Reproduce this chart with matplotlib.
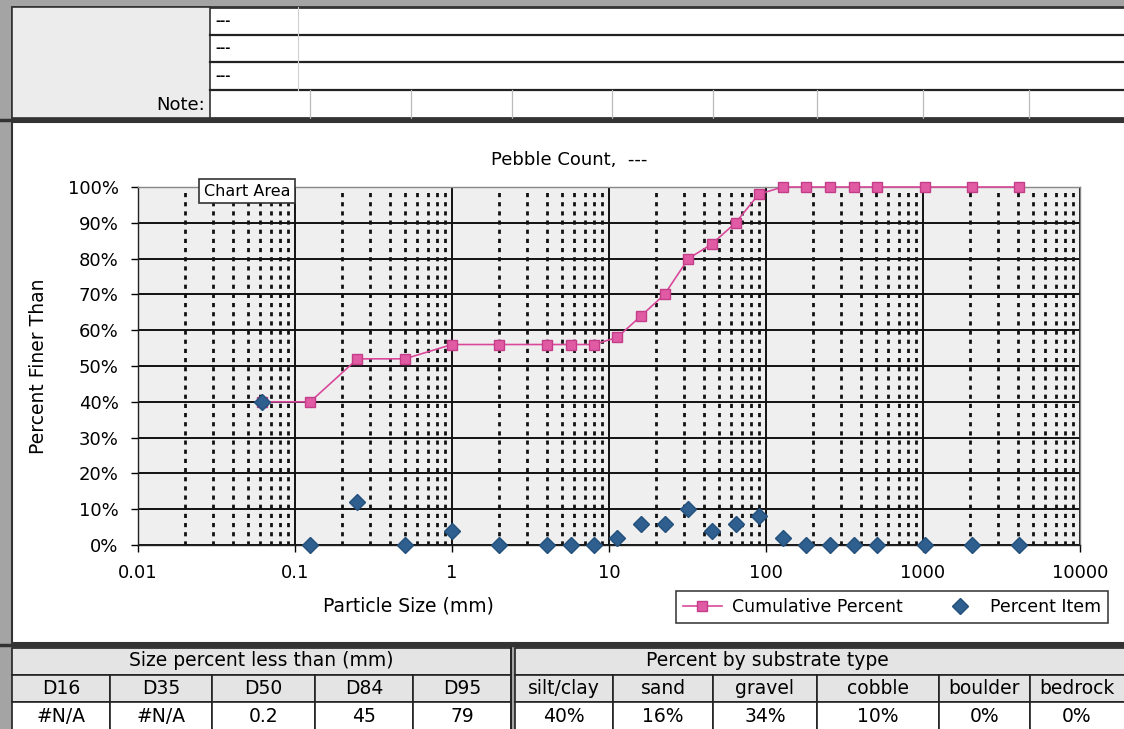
import numpy as np
import matplotlib
matplotlib.use("Agg")
import matplotlib.pyplot as plt
from matplotlib.patches import Rectangle
from matplotlib.ticker import FixedLocator, FuncFormatter, NullFormatter

plt.rcParams['font.family'] = ['DejaVu Sans']

# ---------------------------------------------------------
# data
sizes = [0.062, 0.125, 0.25, 0.5, 1, 2, 4, 5.7, 8, 11.3, 16, 22.6, 32, 45,
         64, 90, 128, 180, 256, 362, 512, 1024, 2048, 4096]
cum_pct = [40, 40, 52, 52, 56, 56, 56, 56, 56, 58, 64, 70, 80, 84,
           90, 98, 100, 100, 100, 100, 100, 100, 100, 100]
item_pct = [40, 0, 12, 0, 4, 0, 0, 0, 0, 2, 6, 6, 10, 4,
            6, 8, 2, 0, 0, 0, 0, 0, 0, 0]

d_labels = ['D16', 'D35', 'D50', 'D84', 'D95']
d_values = ['#N/A', '#N/A', '0.2', '45', '79']
sub_labels = ['silt/clay', 'sand', 'gravel', 'cobble', 'boulder', 'bedrock']
sub_values = ['40%', '16%', '34%', '10%', '0%', '0%']
header_notes = ['---', '---', '---']

W, H = 1124, 729
fig = plt.figure(figsize=(W / 100, H / 100), dpi=100)
fig.patch.set_facecolor('#a4a4a4')

# background "sheet" axes in pixel coordinates
bg = fig.add_axes([0, 0, 1, 1])
bg.set_xlim(0, W)
bg.set_ylim(H, 0)
bg.axis('off')

def box(x0, y0, x1, y1, fc='white', ec='#222222', lw=1.0, z=1):
    bg.add_patch(Rectangle((x0, y0), x1 - x0, y1 - y0, facecolor=fc,
                           edgecolor=ec, linewidth=lw, zorder=z))

# ---- header block
box(12, 7, 1130, 118, fc='white', ec='#333333', lw=2)
box(12, 7, 210, 118, fc='#ececec', ec='#333333', lw=1.2)
for yy in [35, 62, 90]:
    bg.plot([210, 1130], [yy, yy], color='#222222', lw=1.6)
bg.plot([298, 298], [7, 90], color='#d0d0d0', lw=0.8)
for xx in [310, 411, 512, 612, 713, 817, 923, 1029]:
    bg.plot([xx, xx], [90, 118], color='#bbbbbb', lw=0.9)
for i, t in enumerate(header_notes):
    bg.text(215, 21 + 27.5 * i, t, fontsize=9, fontweight='bold', va='center', ha='left')
bg.text(205, 105, 'Note:', fontsize=13, va='center', ha='right')
bg.plot([0, W], [120, 120], color='#333333', lw=2.5)

# ---- chart area
box(12, 122, 1130, 643, fc='white', ec='#333333', lw=1.5)
bg.text(569, 160, 'Pebble Count,  ---', fontsize=13, ha='center', va='center')

# ---- bottom tables
bg.plot([0, W], [645, 645], color='#333333', lw=2.5)
ldiv = [12, 110, 212, 315, 413, 511]
box(12, 648, 511, 675, fc='#e4e4e4', ec='#222222', lw=1.2)
bg.text(261, 661, 'Size percent less than (mm)', fontsize=13.5, ha='center', va='center')
for i in range(5):
    box(ldiv[i], 675, ldiv[i + 1], 702, fc='#e4e4e4', ec='#222222', lw=1.2)
    box(ldiv[i], 702, ldiv[i + 1], 735, fc='white', ec='#222222', lw=1.2)
    cx = (ldiv[i] + ldiv[i + 1]) / 2
    bg.text(cx, 689, d_labels[i], fontsize=13.5, ha='center', va='center')
    bg.text(cx, 716, d_values[i], fontsize=13.5, ha='center', va='center')

rdiv = [515, 613, 713, 817, 939, 1030, 1130]
box(515, 648, 1130, 675, fc='#e4e4e4', ec='#222222', lw=1.2)
bg.text(767, 660, 'Percent by substrate type', fontsize=13.5, ha='center', va='center')
for i in range(6):
    box(rdiv[i], 675, rdiv[i + 1], 702, fc='#e4e4e4', ec='#222222', lw=1.2)
    box(rdiv[i], 702, rdiv[i + 1], 735, fc='white', ec='#222222', lw=1.2)
    cx = (rdiv[i] + min(rdiv[i + 1], W)) / 2
    bg.text(cx, 688, sub_labels[i], fontsize=13.5, ha='center', va='center')
    bg.text(cx, 716, sub_values[i], fontsize=13.5, ha='center', va='center')
bg.plot([511, 511], [648, 729], color='#222222', lw=1.2)

# ---- the plot itself
L, R, T, B = 138, 1080, 187, 545
ax = fig.add_axes([L / W, 1 - B / H, (R - L) / W, (B - T) / H])
ax.set_facecolor('#efefef')
ax.set_xscale('log')
ax.set_xlim(0.01, 10000)
ax.set_ylim(0, 100)

ax.xaxis.set_minor_locator(FixedLocator(
    [m * 10.0 ** e for e in range(-2, 4) for m in range(2, 10)]))
ax.xaxis.set_minor_formatter(NullFormatter())
ax.xaxis.set_major_locator(FixedLocator([0.01, 0.1, 1, 10, 100, 1000, 10000]))
ax.xaxis.set_major_formatter(FuncFormatter(lambda v, p: '%g' % v))
ax.yaxis.set_major_locator(FixedLocator(np.arange(0, 101, 10)))
ax.yaxis.set_major_formatter(FuncFormatter(lambda v, p: '%d%%' % v))

ax.grid(which='major', axis='both', color='#111111', lw=1.4, linestyle='-')
ax.grid(which='minor', axis='x', color='#111111', lw=2.0, linestyle=(0, (1.5, 1.8)))
ax.set_axisbelow(True)
ax.tick_params(which='major', direction='out', length=5, width=1, labelsize=13, pad=9)
ax.tick_params(which='minor', length=0)
for s in ax.spines.values():
    s.set_color('#888888')
    s.set_linewidth(1.0)
ax.spines['left'].set_color('#222222')
ax.spines['bottom'].set_color('#222222')

ax.plot(sizes, cum_pct, color='#d9499a', lw=1.2, marker='s', markersize=6.5,
        markerfacecolor='#e05aa4', markeredgecolor='#c43d88', label='Cumulative Percent',
        clip_on=False, zorder=3)
ax.plot(sizes, item_pct, linestyle='none', marker='D', markersize=8,
        color='#2e5f8f', markeredgecolor='#24507c', label='Percent Item',
        clip_on=False, zorder=4)

ax.set_xlabel('Particle Size (mm)', fontsize=13.5)
ax.set_ylabel('Percent Finer Than', fontsize=13.5, labelpad=14)
ax.xaxis.set_label_coords((408 - L) / (R - L), -(597 - B) / (B - T))

leg = ax.legend(loc='center', bbox_to_anchor=((892 - L) / (R - L), -(607 - B) / (B - T)),
                ncol=2, fontsize=12.5, frameon=True, fancybox=False, edgecolor='#111111',
                borderpad=0.4, columnspacing=2.2, handlelength=2.2, handletextpad=0.6)
leg.get_frame().set_linewidth(1.2)

# the "Chart Area" tooltip caught in the screenshot
fig.text(247 / W, 1 - 191 / H, 'Chart Area', fontsize=11.5, ha='center', va='center',
         zorder=10, bbox=dict(boxstyle='square,pad=0.3', fc='white', ec='#333333', lw=1.2))

fig.savefig('out.png', dpi=100, facecolor=fig.get_facecolor())
